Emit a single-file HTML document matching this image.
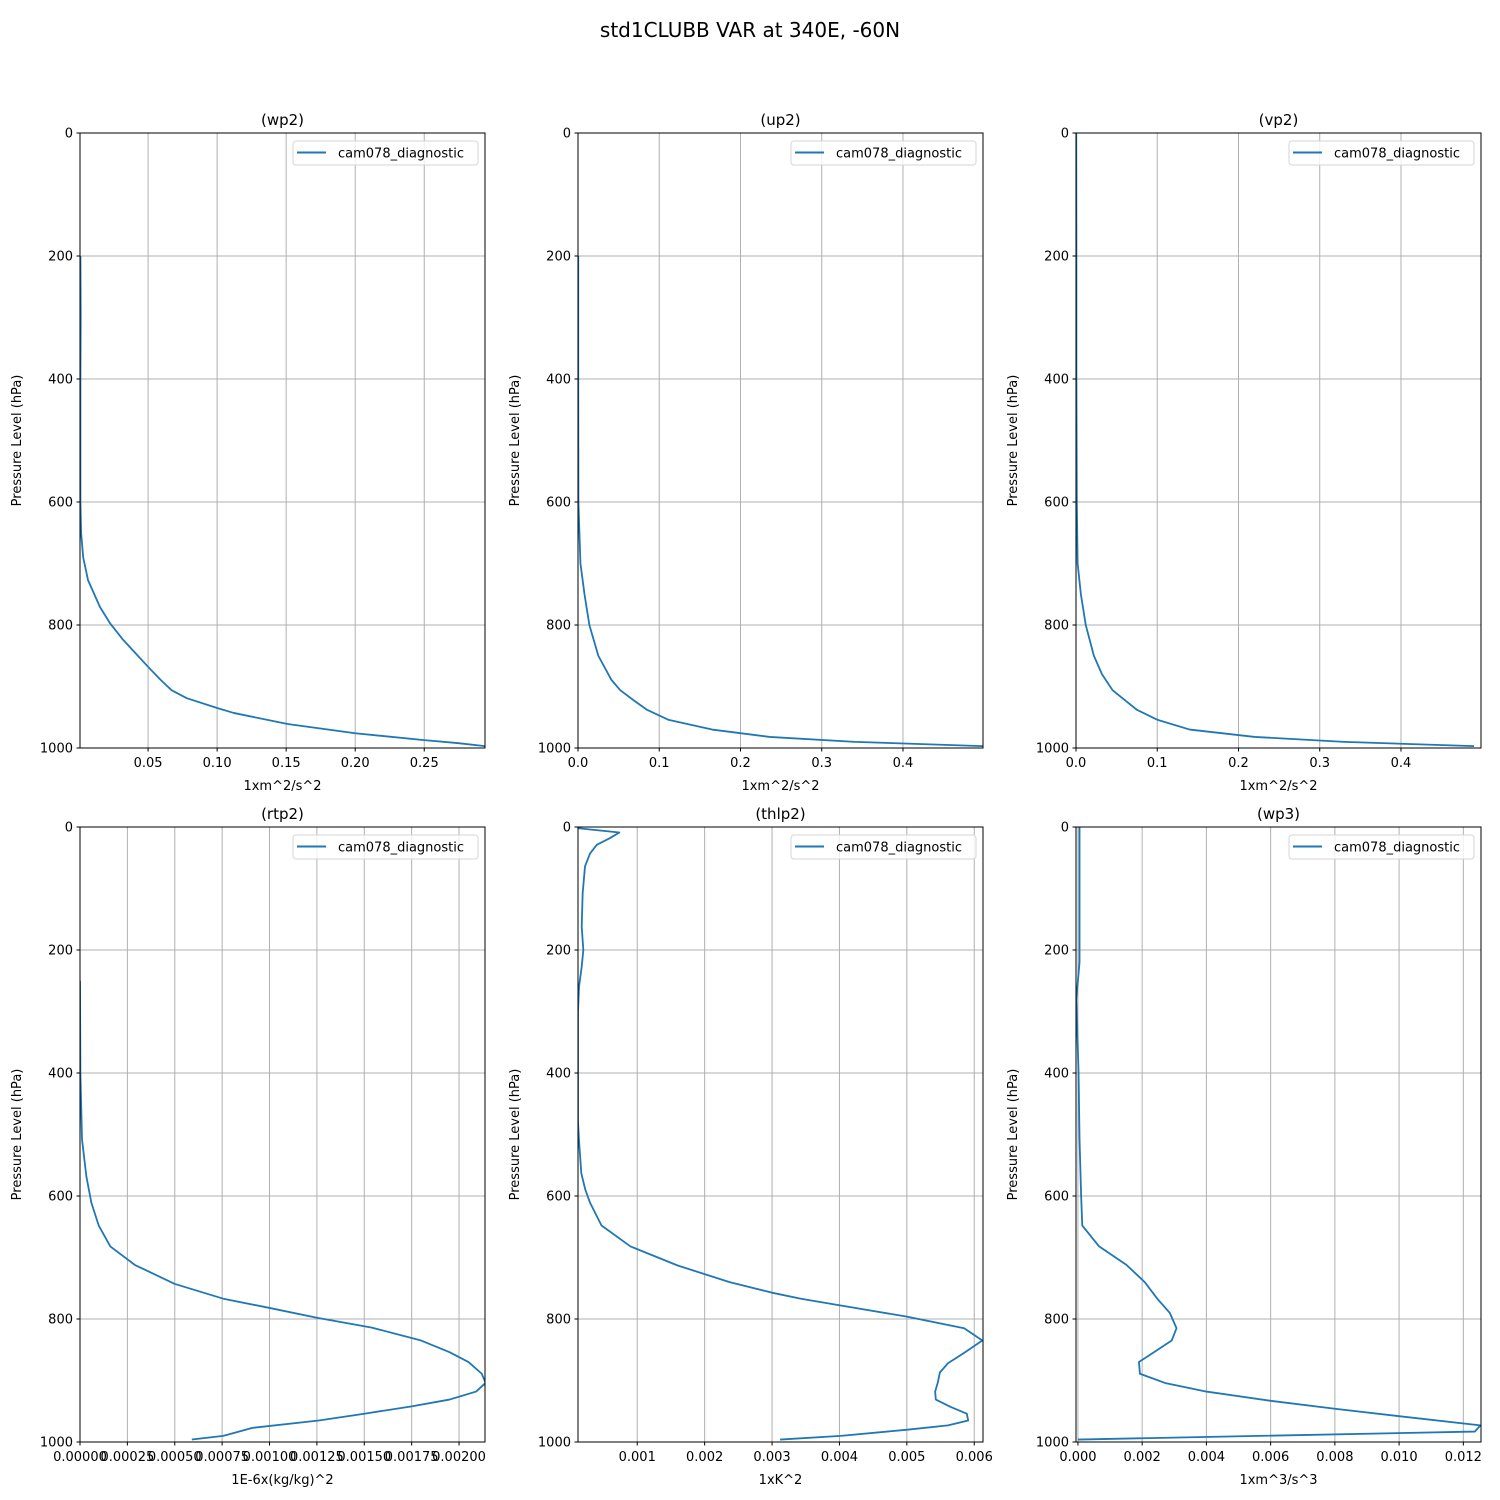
<!DOCTYPE html>
<html><head><meta charset="utf-8"><style>
html,body{margin:0;padding:0;background:#fff;}
svg{display:block;font-family:"DejaVu Sans","Liberation Sans",sans-serif;}
</style></head><body>
<svg id="fig" width="1500" height="1500" viewBox="0 0 1500 1500" xmlns="http://www.w3.org/2000/svg">
<rect width="1500" height="1500" fill="#fff"/>
<text x="750" y="37" text-anchor="middle" font-size="20">std1CLUBB VAR at 340E, -60N</text>
</svg>
<script>
// ---- data ----
const wp2P = [200,300,400,500,600,650,690,727,771,797,824,868,889,906,919,935,943,961,976,987,992,997];
const wp2V = [0.001,0.0012,0.001,0.001,0.001,0.0015,0.003,0.0065,0.0152,0.0224,0.0319,0.050,0.059,0.067,0.078,0.100,0.112,0.151,0.200,0.249,0.274,0.294];
const up2P = [200,400,600,700,750,800,850,889,906,922,938,954,970,982,990,997];
const up2V = [0.0003,0.0003,0.0005,0.003,0.008,0.014,0.025,0.041,0.052,0.068,0.085,0.111,0.165,0.236,0.341,0.498];
const vp2P = [0,200,400,600,700,750,800,850,880,906,922,938,954,970,982,990,997];
const vp2V = [0.0003,0.0005,0.0005,0.001,0.002,0.006,0.012,0.022,0.032,0.045,0.06,0.075,0.10,0.14,0.22,0.33,0.49];
const rtp2P = [250,400,508,568,611,648,682,712,743,767,782,798,814,835,854,870,889,904,918,931,942,954,965,977,990,996];
const rtp2V = [0,0.000002,0.0000106,0.0000335,0.00006,0.0000987,0.00016,0.000289,0.0005,0.000756,0.001,0.00125,0.00154,0.0018,0.00195,0.00205,0.00212,0.00214,0.00209,0.00195,0.00175,0.0015,0.00126,0.00091,0.000756,0.00059];
const thlp2P = [2,9,18,29,43,64,108,162,200,227,260,300,480,508,563,590,611,648,682,713,740,757,767,778,796,815,835,855,872,887,903,918,931,943,954,965,973,980,990,996];
const thlp2V = [0.000126,0.000734,0.000596,0.0004,0.0003,0.000225,0.00019,0.000176,0.0002,0.000176,0.000136,0.000121,0.000121,0.000135,0.00017,0.00023,0.0003,0.00047,0.0009,0.0016,0.00237,0.00299,0.00343,0.00402,0.00499,0.00585,0.00612,0.00585,0.00561,0.00549,0.00546,0.00542,0.00543,0.00565,0.00589,0.00591,0.00561,0.00501,0.00402,0.00312];
const wp3P = [0,220,280,400,508,600,648,682,712,740,767,790,815,835,870,889,904,918,933,946,958,973,983,996];
const wp3V = [0.00005,0.00005,-0.00005,0.00002,0.00005,0.0001,0.000135,0.00066,0.00151,0.00208,0.00247,0.00286,0.00307,0.00292,0.0019,0.00193,0.00271,0.004,0.006,0.008,0.010,0.01253,0.01236,0.0];
const wp2Ticks = ["0.05","0.10","0.15","0.20","0.25"];
const up2Ticks = ["0.0","0.1","0.2","0.3","0.4"];
const rtp2Ticks = ["0.00000","0.00025","0.00050","0.00075","0.00100","0.00125","0.00150","0.00175","0.00200"];
const thlp2Ticks = ["0.001","0.002","0.003","0.004","0.005","0.006"];
const wp3Ticks = ["0.000","0.002","0.004","0.006","0.008","0.010","0.012"];
const yTicks = [0,200,400,600,800,1000];

const panels = [
 {id:'wp2',title:'(wp2)',xl:'1xm^2/s^2',x0:80,y0:133,xmin:0.0007,xmax:0.294,P:wp2P,V:wp2V,T:wp2Ticks},
 {id:'up2',title:'(up2)',xl:'1xm^2/s^2',x0:578,y0:133,xmin:0,xmax:0.4985,P:up2P,V:up2V,T:up2Ticks},
 {id:'vp2',title:'(vp2)',xl:'1xm^2/s^2',x0:1076,y0:133,xmin:0,xmax:0.4985,P:vp2P,V:vp2V,T:up2Ticks},
 {id:'rtp2',title:'(rtp2)',xl:'1E-6x(kg/kg)^2',x0:80,y0:827,xmin:0,xmax:0.002137,P:rtp2P,V:rtp2V,T:rtp2Ticks},
 {id:'thlp2',title:'(thlp2)',xl:'1xK^2',x0:578,y0:827,xmin:0.000121,xmax:0.00613,P:thlp2P,V:thlp2V,T:thlp2Ticks},
 {id:'wp3',title:'(wp3)',xl:'1xm^3/s^3',x0:1076,y0:827,xmin:-0.00006,xmax:0.01255,P:wp3P,V:wp3V,T:wp3Ticks}
];
const W=405,H=615,NS='http://www.w3.org/2000/svg';
const fig=document.getElementById('fig');
function mk(tag,attrs,parent,txt){const e=document.createElementNS(NS,tag);for(const k in attrs)e.setAttribute(k,attrs[k]);if(txt!==undefined)e.textContent=txt;parent.appendChild(e);return e;}
panels.forEach(pn=>{
  const g=mk('g',{},fig);
  
  
  const sx=v=>pn.x0+(v-pn.xmin)/(pn.xmax-pn.xmin)*W;
  const sy=p=>pn.y0+p/1000*H;
  // grid
  yTicks.forEach(t=>{
    const y=sy(t);
    const l=mk('line',{x1:pn.x0,x2:pn.x0+W,y1:y,y2:y,stroke:'#b0b0b0','stroke-width':1},g);
    
    
    mk('line',{x1:pn.x0-3.5,x2:pn.x0,y1:y,y2:y,stroke:'#000','stroke-width':1},g);
    const tx=mk('text',{x:pn.x0-7,y:y+4.5,'text-anchor':'end','font-size':13},g,String(t));
    
    
  });
  pn.T.forEach(s=>{
    const x=sx(parseFloat(s));
    const l=mk('line',{x1:x,x2:x,y1:pn.y0,y2:pn.y0+H,stroke:'#b0b0b0','stroke-width':1},g);
    
    
    mk('line',{x1:x,x2:x,y1:pn.y0+H,y2:pn.y0+H+3.5,stroke:'#000','stroke-width':1},g);
    const tx=mk('text',{x:x,y:pn.y0+H+19,'text-anchor':'middle','font-size':13},g,s);
    
    
  });
  // line
  const d=pn.P.map((p,i)=>(i?'L':'M')+sx(pn.V[i]).toFixed(2)+','+sy(p).toFixed(2)).join(' ');
  const cp=mk('clipPath',{id:'c'+pn.id},g);mk('rect',{x:pn.x0,y:pn.y0,width:W,height:H},cp);
  const path=mk('path',{d:d,fill:'none',stroke:'#1f77b4','stroke-width':1.8,'stroke-linejoin':'round','clip-path':'url(#c'+pn.id+')'},g);
  
  
  // frame
  mk('rect',{x:pn.x0,y:pn.y0,width:W,height:H,fill:'none',stroke:'#000','stroke-width':1},g);
  const ti=mk('text',{x:pn.x0+W/2,y:pn.y0-8,'text-anchor':'middle','font-size':15},g,pn.title);
  
  
  const xl=mk('text',{x:pn.x0+W/2,y:pn.y0+H+42,'text-anchor':'middle','font-size':13},g,pn.xl);
  
  
  const yx=pn.x0-59, yy=pn.y0+H/2;
  const yl=mk('text',{x:yx,y:yy,'text-anchor':'middle','font-size':13,transform:'rotate(-90 '+yx+' '+yy+')'},g,'Pressure Level (hPa)');
  
  
  // legend
  const lg=mk('g',{},g);
  
  
  const lx=pn.x0+W-192, ly=pn.y0+8;
  mk('rect',{x:lx,y:ly,width:185,height:24,rx:3,fill:'#fff','fill-opacity':0.8,stroke:'#d6d6d6','stroke-width':1},lg);
  mk('line',{x1:lx+4,x2:lx+33,y1:ly+11.5,y2:ly+11.5,stroke:'#1f77b4','stroke-width':2},lg);
  const lt=mk('text',{x:lx+45,y:ly+16.5,'font-size':13},lg,'cam078_diagnostic');
  
  
});
</script>
</body></html>
